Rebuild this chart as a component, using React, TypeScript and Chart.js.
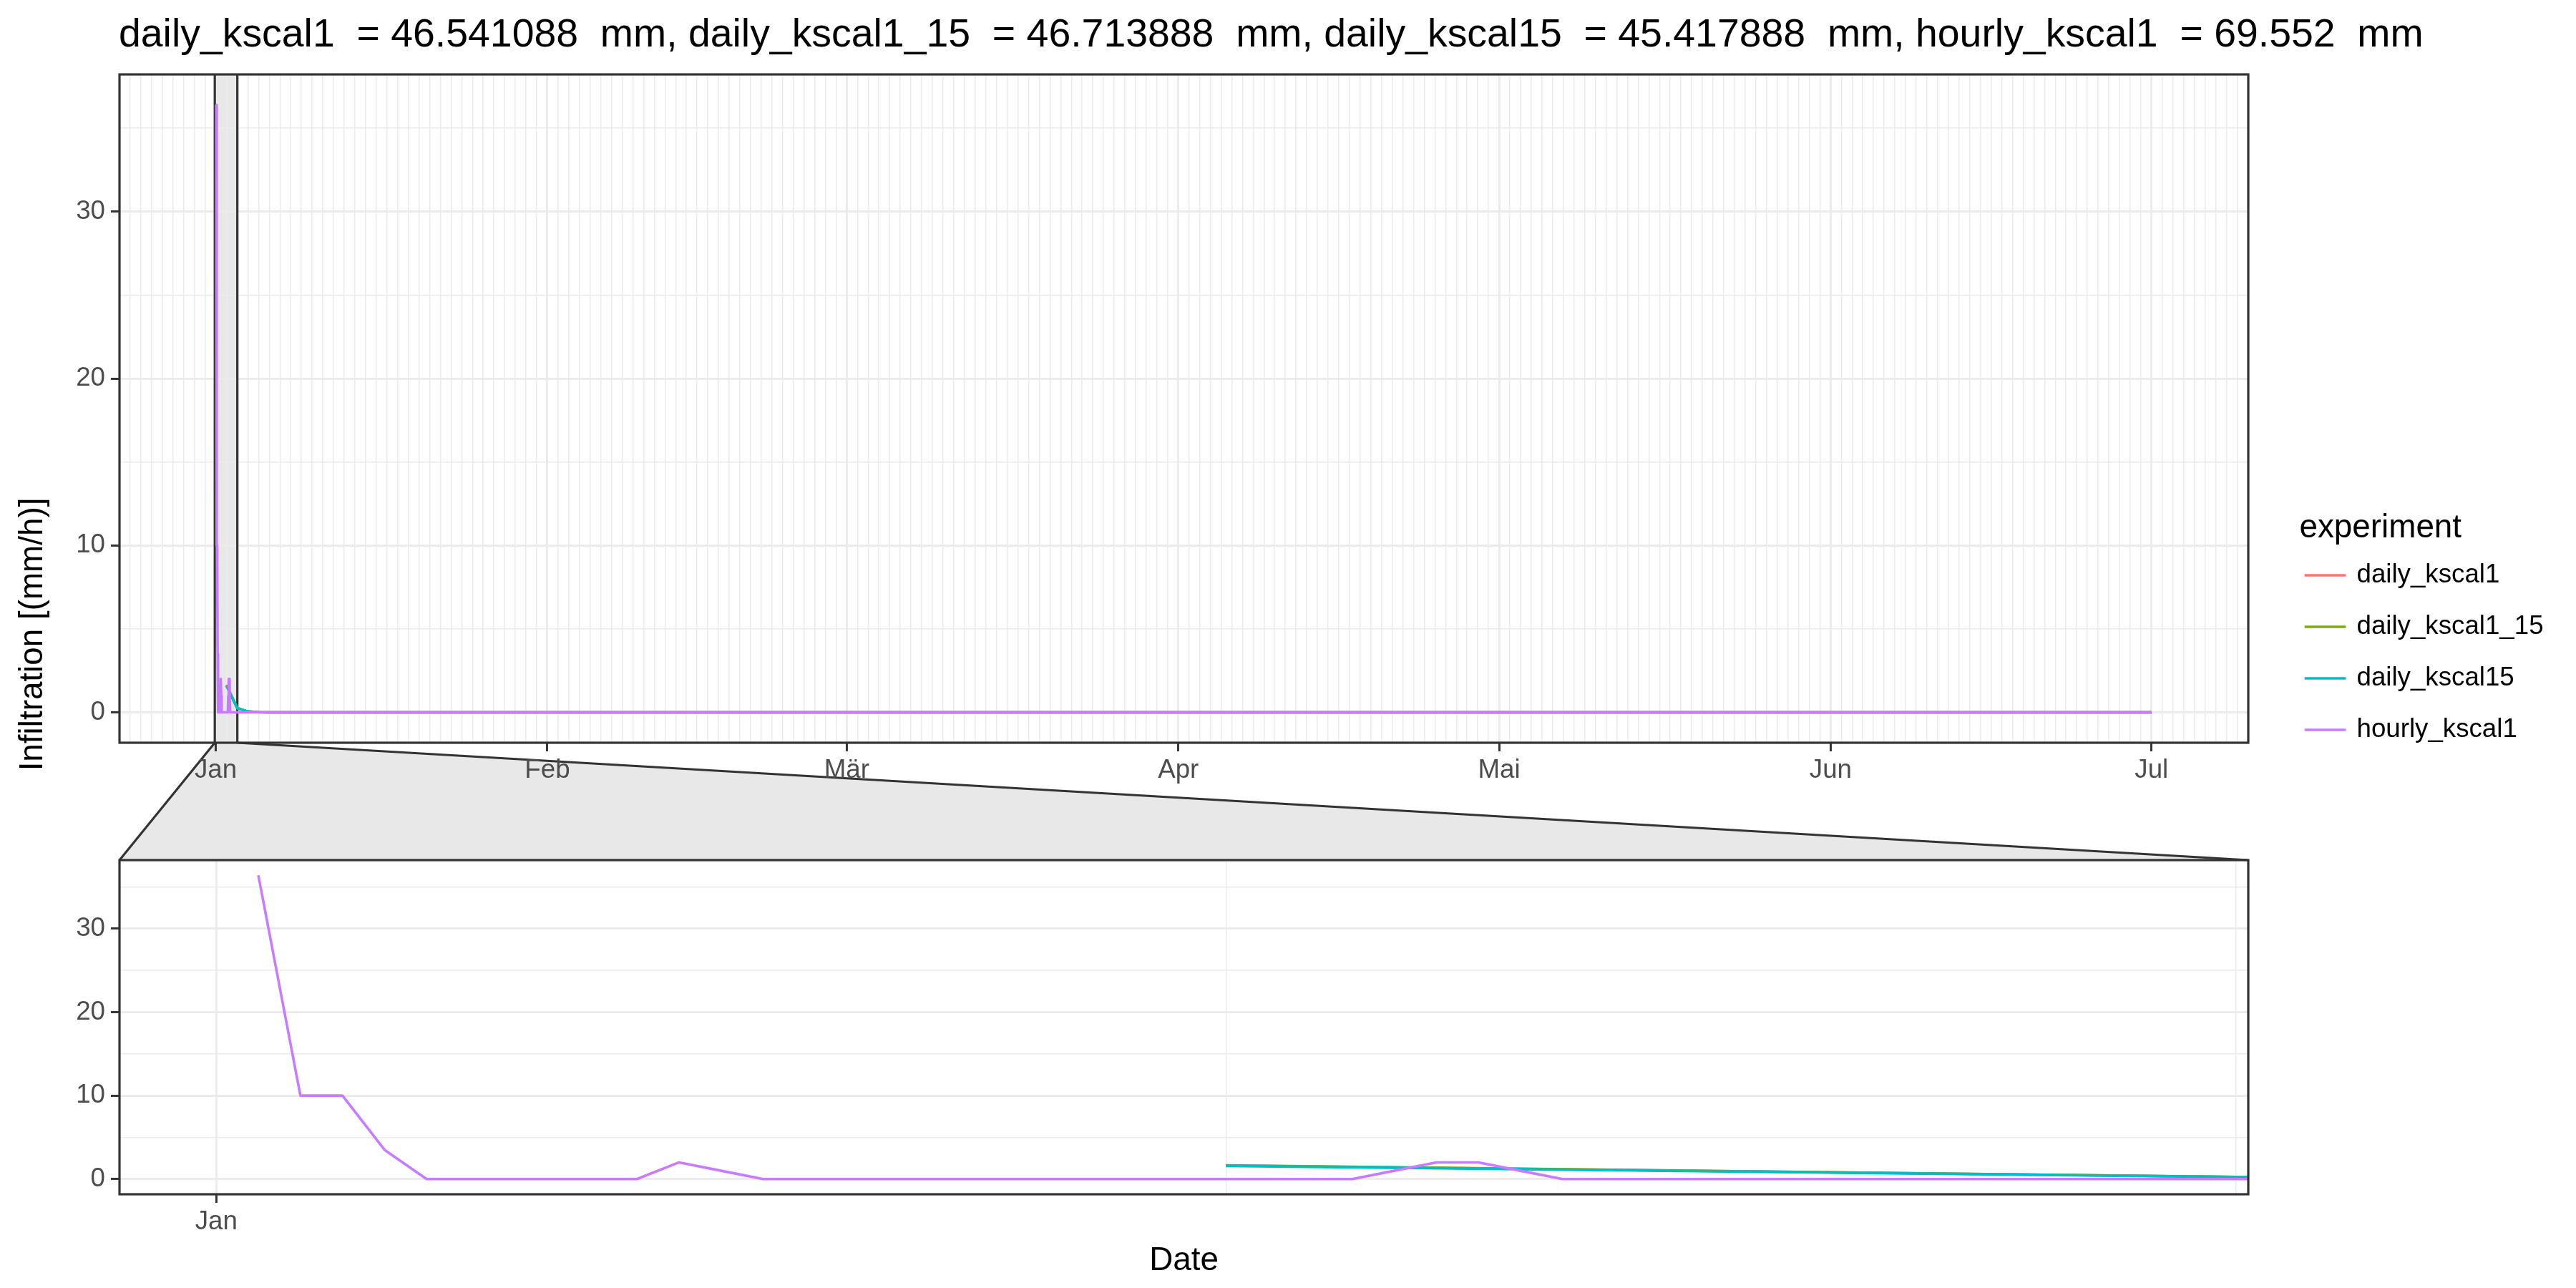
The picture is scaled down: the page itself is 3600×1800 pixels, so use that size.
import React, { useEffect, useRef } from "react";
import { Chart, registerables } from "chart.js";

Chart.register(...registerables);

// ---------------- data ----------------
const experiments = ["daily_kscal1", "daily_kscal1_15", "daily_kscal15", "hourly_kscal1"];
const experimentColors = ["#F8766D", "#7CAE00", "#00BFC4", "#C77CFF"];
const experimentTotals = ["46.541088", "46.713888", "45.417888", "69.552"];

// time given in hours since 1 Jan 00:00
const dailyHours = [24, 48, 72, 96, 120, 4344];
const dailyKscal1 = [1.63, 0.26, 0.05, 0.012, 0, 0];
const dailyKscal1_15 = [1.64, 0.26, 0.05, 0.012, 0, 0];
const dailyKscal15 = [1.58, 0.25, 0.05, 0.013, 0, 0];

const hourlyHours = [1, 2, 3, 4, 5, 10, 11, 12, 13, 27, 28, 29, 30, 31, 32, 4344];
const hourlyKscal1 = [36.4, 10, 10, 3.5, 0, 0, 2, 1, 0, 0, 1, 2, 2, 1, 0, 0];

const monthStartDays = [0, 31, 59, 90, 120, 151, 181];
const monthLabels = ["Jan", "Feb", "Mär", "Apr", "Mai", "Jun", "Jul"];
const yMajorTicks = [0, 10, 20, 30];
const yMinorTicks = [5, 15, 25, 35];
const zoomHours = [0, 46];

const titleText = experiments.map((e, i) => `${e}  = ${experimentTotals[i]}  mm`).join(", ");
const yTitle = "Infiltration [(mm/h)]";
const xTitle = "Date";
const legendTitle = "experiment";

// ---------------- layout / style ----------------
const PAGE_W = 3600;
const PAGE_H = 1800;
const FONT = "'Liberation Sans', Arimo, Arial, Helvetica, sans-serif";
const TOP_AREA = { left: 167, right: 3142, top: 104, bottom: 1038 };
const BOTTOM_AREA = { left: 167, right: 3142, top: 1202, bottom: 1669 };
const AXIS_BOX = 80;
const DARK = "#333333";
const GRID = "#EBEBEB";
const ZOOM_FILL = "#E8E8E8";
const TICK_TEXT = "#4D4D4D";
const LINE_W = 3.6;

function expand(lo: number, hi: number, f = 0.05): [number, number] {
  const d = (hi - lo) * f;
  return [lo - d, hi + d];
}

const seriesValues = [dailyKscal1, dailyKscal1_15, dailyKscal15, hourlyKscal1];
const seriesHours = [dailyHours, dailyHours, dailyHours, hourlyHours];
const allValues = seriesValues.flat();
const allHours = seriesHours.flat();
const [yMin, yMax] = expand(Math.min(...allValues), Math.max(...allValues));
const [topMinH, topMaxH] = expand(Math.min(...allHours), Math.max(...allHours));
const [zoomMinH, zoomMaxH] = expand(zoomHours[0], zoomHours[1]);

function buildDatasets(hoursPerUnit: number) {
  return experiments.map((name, i) => ({
    label: name,
    data: seriesHours[i].map((h, j) => ({ x: h / hoursPerUnit, y: seriesValues[i][j] })),
    borderColor: experimentColors[i],
    backgroundColor: experimentColors[i],
    borderWidth: LINE_W,
    pointRadius: 0,
    pointHoverRadius: 0,
    tension: 0,
    fill: false,
    borderJoinStyle: "round" as const,
    borderCapStyle: "butt" as const,
    clip: 0,
    order: experiments.length - 1 - i,
  }));
}

function makeXScale(min: number, max: number, tickValues: number[], isMajor: (v: number) => boolean, labelFor: (v: number) => string) {
  return {
    type: "linear" as const,
    min,
    max,
    afterFit: (s: any) => {
      s.height = AXIS_BOX;
    },
    afterBuildTicks: (s: any) => {
      s.ticks = tickValues.map((v) => ({ value: v }));
    },
    ticks: {
      autoSkip: false,
      maxRotation: 0,
      minRotation: 0,
      padding: 5,
      color: TICK_TEXT,
      font: { family: FONT, size: 36.7 },
      callback: (v: any) => labelFor(Number(v)),
    },
    grid: {
      color: GRID,
      lineWidth: (c: any) => (c.tick && isMajor(c.tick.value) ? 2.9 : 1.5),
      drawTicks: true,
      tickLength: 12,
      tickWidth: 3,
      tickColor: (c: any) => (c.tick && isMajor(c.tick.value) ? DARK : "rgba(0,0,0,0)"),
    },
    border: { display: false },
  };
}

function makeYScale(area: { left: number }) {
  const all = [...yMajorTicks, ...yMinorTicks].sort((a, b) => a - b);
  const isMajor = (v: number) => yMajorTicks.includes(v);
  return {
    type: "linear" as const,
    min: yMin,
    max: yMax,
    afterFit: (s: any) => {
      s.width = area.left;
    },
    afterBuildTicks: (s: any) => {
      s.ticks = all.map((v) => ({ value: v }));
    },
    ticks: {
      autoSkip: false,
      padding: 8,
      color: TICK_TEXT,
      font: { family: FONT, size: 36.7 },
      callback: (v: any) => (isMajor(Number(v)) ? String(v) : ""),
    },
    grid: {
      color: GRID,
      lineWidth: (c: any) => (c.tick && isMajor(c.tick.value) ? 2.9 : 1.5),
      drawTicks: true,
      tickLength: 12,
      tickWidth: 3,
      tickColor: (c: any) => (c.tick && isMajor(c.tick.value) ? DARK : "rgba(0,0,0,0)"),
    },
    border: { display: false },
  };
}

function baseOptions(area: { left: number; right: number; top: number; bottom: number }) {
  return {
    responsive: false,
    animation: false as const,
    devicePixelRatio: 1,
    events: [] as any[],
    layout: {
      padding: {
        left: 0,
        top: area.top,
        right: PAGE_W - area.right,
        bottom: PAGE_H - area.bottom - AXIS_BOX,
      },
    },
    plugins: {
      legend: { display: false },
      title: { display: false },
      tooltip: { enabled: false },
    },
  };
}

export default function App() {
  const topRef = useRef<HTMLCanvasElement | null>(null);
  const bottomRef = useRef<HTMLCanvasElement | null>(null);

  useEffect(() => {
    if (!topRef.current || !bottomRef.current) return;

    // ---------- bottom (zoomed) panel, x in hours ----------
    const bottomTicks: number[] = [];
    for (let d = Math.ceil(zoomMinH / 24); d <= Math.floor(zoomMaxH / 24); d++) bottomTicks.push(d * 24);
    const bottomMajor = (v: number) => monthStartDays.includes(v / 24);
    const bottomLabel = (v: number) => {
      const k = monthStartDays.indexOf(v / 24);
      return k >= 0 ? monthLabels[k] : "";
    };

    const bottomChart = new Chart(bottomRef.current, {
      type: "line",
      data: { datasets: buildDatasets(1) as any },
      options: {
        ...baseOptions(BOTTOM_AREA),
        scales: {
          x: makeXScale(zoomMinH, zoomMaxH, bottomTicks, bottomMajor, bottomLabel) as any,
          y: makeYScale(BOTTOM_AREA) as any,
        },
      } as any,
      plugins: [
        {
          id: "bottomDecor",
          afterDraw(chart: any) {
            const { ctx, chartArea: a } = chart;
            ctx.save();
            ctx.strokeStyle = DARK;
            ctx.lineWidth = 3.2;
            ctx.strokeRect(a.left, a.top, a.right - a.left, a.bottom - a.top);
            ctx.fillStyle = "#000000";
            ctx.font = `45.8px ${FONT}`;
            ctx.textAlign = "center";
            ctx.textBaseline = "alphabetic";
            ctx.fillText(xTitle, (a.left + a.right) / 2, 1775);
            ctx.restore();
          },
        },
      ],
    });

    // ---------- top (full) panel, x in days ----------
    const topMinD = topMinH / 24;
    const topMaxD = topMaxH / 24;
    const topTicks: number[] = [];
    for (let d = Math.ceil(topMinD); d <= Math.floor(topMaxD); d++) topTicks.push(d);
    const topMajor = (v: number) => monthStartDays.includes(v);
    const topLabel = (v: number) => {
      const k = monthStartDays.indexOf(v);
      return k >= 0 ? monthLabels[k] : "";
    };

    const zoomPixels = (chart: any) => {
      const xs = chart.scales.x;
      return [xs.getPixelForValue(zoomMinH / 24), xs.getPixelForValue(zoomMaxH / 24)];
    };

    const topChart = new Chart(topRef.current, {
      type: "line",
      data: { datasets: buildDatasets(24) as any },
      options: {
        ...baseOptions(TOP_AREA),
        scales: {
          x: makeXScale(topMinD, topMaxD, topTicks, topMajor, topLabel) as any,
          y: makeYScale(TOP_AREA) as any,
        },
      } as any,
      plugins: [
        {
          id: "topDecor",
          beforeDraw(chart: any) {
            const { ctx, chartArea: a } = chart;
            const b = bottomChart.chartArea;
            const [il, ir] = zoomPixels(chart);
            ctx.save();
            ctx.fillStyle = "#FFFFFF";
            ctx.fillRect(0, 0, chart.width, chart.height);
            // connector between panels
            ctx.beginPath();
            ctx.moveTo(il, a.bottom);
            ctx.lineTo(ir, a.bottom);
            ctx.lineTo(b.right, b.top);
            ctx.lineTo(b.left, b.top);
            ctx.closePath();
            ctx.fillStyle = ZOOM_FILL;
            ctx.fill();
            ctx.strokeStyle = DARK;
            ctx.lineWidth = 3.2;
            ctx.beginPath();
            ctx.moveTo(il, a.bottom);
            ctx.lineTo(b.left, b.top);
            ctx.moveTo(ir, a.bottom);
            ctx.lineTo(b.right, b.top);
            ctx.stroke();
            // zoom indicator in full panel
            ctx.fillStyle = ZOOM_FILL;
            ctx.fillRect(il, a.top, ir - il, a.bottom - a.top);
            ctx.restore();
          },
          beforeDatasetsDraw(chart: any) {
            const { ctx, chartArea: a } = chart;
            const [il, ir] = zoomPixels(chart);
            ctx.save();
            ctx.strokeStyle = DARK;
            ctx.lineWidth = 3.2;
            ctx.beginPath();
            ctx.moveTo(il, a.top);
            ctx.lineTo(il, a.bottom);
            ctx.moveTo(ir, a.top);
            ctx.lineTo(ir, a.bottom);
            ctx.stroke();
            ctx.restore();
          },
          afterDraw(chart: any) {
            const { ctx, chartArea: a } = chart;
            const b = bottomChart.chartArea;
            ctx.save();
            ctx.strokeStyle = DARK;
            ctx.lineWidth = 3.2;
            ctx.strokeRect(a.left, a.top, a.right - a.left, a.bottom - a.top);

            // title
            ctx.fillStyle = "#000000";
            ctx.font = `55.4px ${FONT}`;
            ctx.textAlign = "left";
            ctx.textBaseline = "alphabetic";
            ctx.fillText(titleText, a.left - 1, 65);

            // y axis title spanning both panels
            ctx.save();
            ctx.translate(46, (a.top + b.bottom) / 2);
            ctx.rotate(-Math.PI / 2);
            ctx.font = `45.8px ${FONT}`;
            ctx.textAlign = "center";
            ctx.textBaseline = "middle";
            ctx.fillText(yTitle, 0, 0);
            ctx.restore();

            // legend
            const lx = 3213.5;
            ctx.font = `45.8px ${FONT}`;
            ctx.textAlign = "left";
            ctx.textBaseline = "alphabetic";
            ctx.fillText(legendTitle, lx, 750.5);
            ctx.font = `36.7px ${FONT}`;
            ctx.textBaseline = "middle";
            chart.data.datasets.forEach((ds: any, i: number) => {
              const ky = 804 + i * 72;
              ctx.strokeStyle = ds.borderColor;
              ctx.lineWidth = LINE_W;
              ctx.beginPath();
              ctx.moveTo(lx + 7.2, ky);
              ctx.lineTo(lx + 64.8, ky);
              ctx.stroke();
              ctx.fillStyle = "#000000";
              ctx.fillText(ds.label, lx + 80, ky);
            });
            ctx.restore();
          },
        },
      ],
    });

    return () => {
      topChart.destroy();
      bottomChart.destroy();
    };
  }, []);

  const canvasStyle: React.CSSProperties = {
    position: "absolute",
    left: 0,
    top: 0,
    width: PAGE_W,
    height: PAGE_H,
  };

  return (
    <div style={{ position: "fixed", left: 0, top: 0, width: PAGE_W, height: PAGE_H, background: "#FFFFFF", overflow: "hidden" }}>
      <canvas ref={topRef} width={PAGE_W} height={PAGE_H} style={canvasStyle} />
      <canvas ref={bottomRef} width={PAGE_W} height={PAGE_H} style={canvasStyle} />
    </div>
  );
}
